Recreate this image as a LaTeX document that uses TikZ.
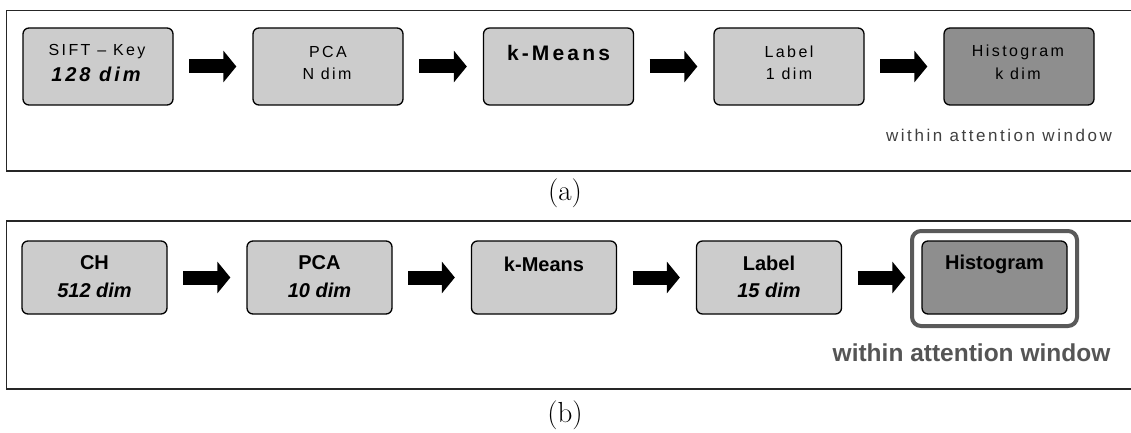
\documentclass[tikz,border=0pt]{standalone}
\usepackage{fontspec}
\newfontfamily\pixfont[LetterSpace=15]{Liberation Sans}
\newfontfamily\arialfont{Liberation Sans}
\usetikzlibrary{arrows.meta}
\definecolor{lightfill}{HTML}{CCCCCC}
\definecolor{darkfill}{HTML}{8E8E8E}
\definecolor{framegray}{HTML}{5A5A5A}
\definecolor{notegrayA}{HTML}{404040}
\definecolor{notegrayB}{HTML}{555555}
\tikzset{
  panel/.style={draw=black!85, line width=1.8pt},
  stagebox/.style={draw=black, line width=1.3pt, rounded corners=6pt, fill=lightfill, inner sep=0pt},
  boxA/.style={stagebox, minimum width=150pt, minimum height=77pt},
  boxB/.style={stagebox, minimum width=145pt, minimum height=73pt},
  hframe/.style={draw=framegray, line width=4pt, rounded corners=9pt, inner sep=0pt, minimum width=165pt, minimum height=95pt},
  blockarrow/.style={line width=14pt, -{Triangle[width=31pt,length=13pt]}, shorten <=15.5pt, shorten >=16pt},
  txtA/.style={inner sep=0pt, font=\pixfont\fontsize{16}{19}\selectfont},
  txtAbi/.style={inner sep=0pt, font=\pixfont\fontsize{20}{23}\selectfont\bfseries\itshape},
  txtAb/.style={inner sep=0pt, font=\pixfont\fontsize{21}{24}\selectfont\bfseries},
  txtB/.style={inner sep=0pt, font=\arialfont\fontsize{20}{24}\selectfont\bfseries},
  txtBbi/.style={inner sep=0pt, font=\arialfont\fontsize{20}{24}\selectfont\bfseries\itshape},
  noteA/.style={inner sep=0pt, text=notegrayA, font=\pixfont\fontsize{17}{20}\selectfont},
  noteB/.style={inner sep=0pt, text=notegrayB, font=\arialfont\fontsize{24.5}{28}\selectfont\bfseries},
  caption/.style={inner sep=0pt, font=\fontsize{29}{34}\selectfont}
}
\begin{document}
\begin{tikzpicture}[x=1pt,y=-1pt]
\clip (0,0) rectangle (1131,433);
\fill[white] (0,0) rectangle (1131,433);
% panel (a)
\draw[panel] (6.5,10.5) rectangle (1145,171);
\node[boxA] (a1) at (98,66.5) {};
\node[boxA] (a2) at (328,66.5) {};
\node[boxA] (a3) at (558.5,66.5) {};
\node[boxA] (a4) at (789,66.5) {};
\node[boxA, fill=darkfill] (a5) at (1019,66.5) {};
\node[txtA] (a1t) at (97,52) {SIFT – Key};
\node[txtAbi] (a1d) at (96,74) {128 dim};
\node[txtA] (a2t) at (328,52) {PCA};
\node[txtA] (a2d) at (327,74) {N dim};
\node[txtAb] (a3t) at (558.5,53) {k-Means};
\node[txtA] (a4t) at (789,52) {Label};
\node[txtA] (a4d) at (789,74) {1 dim};
\node[txtA] (a5t) at (1018,52) {Histogram};
\node[txtA] (a5d) at (1018,74) {k dim};
\node[noteA] (anote) at (999,135) {within attention window};
\draw[blockarrow] (a1) -- (a2);
\draw[blockarrow] (a2) -- (a3);
\draw[blockarrow] (a3) -- (a4);
\draw[blockarrow] (a4) -- (a5);
\node[caption] (capa) at (565,193) {(a)};
% panel (b)
\draw[panel] (6.5,221) rectangle (1145,389);
\node[boxB] (b1) at (94.5,277.5) {};
\node[boxB] (b2) at (319.5,277.5) {};
\node[boxB] (b3) at (544,277.5) {};
\node[boxB] (b4) at (769,277.5) {};
\node[boxB, fill=darkfill] (b5) at (994.5,277.5) {};
\node[hframe] (b5f) at (994.5,278.5) {};
\node[txtB] (b1t) at (94.5,263) {CH};
\node[txtBbi] (b1d) at (94.5,290) {512 dim};
\node[txtB] (b2t) at (319.5,263) {PCA};
\node[txtBbi] (b2d) at (319.5,290) {10 dim};
\node[txtB] (b3t) at (544,264) {k-Means};
\node[txtB] (b4t) at (769,263) {Label};
\node[txtBbi] (b4d) at (769,290) {15 dim};
\node[txtB] (b5t) at (994.5,264) {Histogram};
\node[noteB] (bnote) at (971.5,353) {within attention window};
\draw[blockarrow] (b1) -- (b2);
\draw[blockarrow] (b2) -- (b3);
\draw[blockarrow] (b3) -- (b4);
\draw[blockarrow] (b4) -- (b5);
\node[caption] (capb) at (565,415) {(b)};
\end{tikzpicture}
\end{document}
